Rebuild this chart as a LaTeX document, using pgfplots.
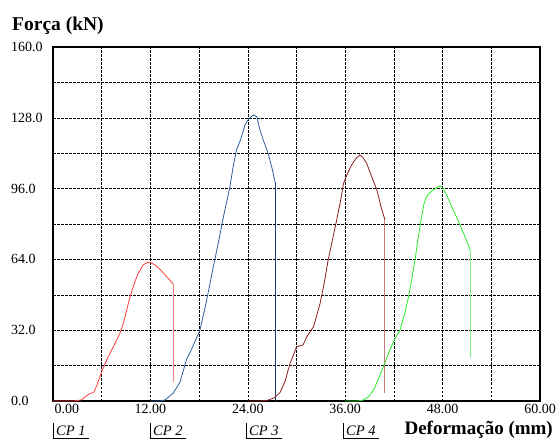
\documentclass[border=0pt]{standalone}
\usepackage{fontspec}
\setmainfont{Liberation Serif}
\usepackage{pgfplots}
\pgfplotsset{compat=1.18}
\definecolor{cpred}{RGB}{255,60,60}
\definecolor{cpredl}{RGB}{255,130,130}
\definecolor{cpblue}{RGB}{45,95,155}
\definecolor{cpblued}{RGB}{25,65,125}
\definecolor{cpbrown}{RGB}{140,30,30}
\definecolor{cpbrownl}{RGB}{195,125,125}
\definecolor{cpgreen}{RGB}{40,235,40}
\definecolor{cpgreenl}{RGB}{130,240,130}
\begin{document}
\begin{tikzpicture}
\useasboundingbox (0,0) rectangle (559pt,439pt);
\begin{axis}[
  at={(53pt,38pt)}, anchor=south west,
  scale only axis, width=487pt, height=354pt,
  xmin=0, xmax=60, ymin=0, ymax=160,
  xtick={0,12,24,36,48,60},
  xticklabels={\hspace*{28pt}0.00,12.00,24.00,36.00,48.00,60.00},
  ytick={0,32,64,96,128,160},
  yticklabels={0.0,32.0,64.0,96.0,128.0,160.0},
  minor xtick={6,18,30,42,54},
  minor ytick={16,48,80,112,144},
  grid=both,
  major grid style={black, line width=0.5pt, dash pattern=on 2.5pt off 1.5pt},
  minor grid style={black, line width=0.5pt, dash pattern=on 2.5pt off 1.5pt},
  major tick length=0pt, minor tick length=0pt,
  axis line style={black, line width=1.8pt},
  tick label style={font=\fontsize{14}{16}\selectfont},
  yticklabel style={anchor=west, xshift=-42pt, inner sep=0pt},
  xticklabel style={inner sep=2pt, yshift=-1pt},
]
% CP 1
\addplot[cpred, line width=0.8pt] coordinates {
(0,0)(2.5,0)(3.5,0.5)(4.2,2.5)(4.6,3.5)(5.0,3.8)(5.4,7)(6.0,13.3)(6.8,20)(7.5,25)(8.25,30.6)(8.67,35.1)(9.08,41.1)(9.4,46)(9.69,49.4)(10.1,54)(10.5,57.7)(11.1,61.5)(11.6,62.6)(11.95,62.7)(12.57,61.5)(13.2,59.5)(13.8,57)(14.3,55)(14.8,52.9)};
\addplot[cpredl, line width=1pt] coordinates {(14.8,52.9)(14.8,8.7)};
% CP 2
\addplot[cpblue, line width=0.8pt] coordinates {
(12,0)(13.2,0)(13.8,0.5)(14.8,3.5)(15.65,8.5)(16.0,13)(16.47,19)(16.9,22)(17.5,27)(18.1,32)(18.9,45)(19.75,60.7)(20.4,72)(21,83.3)(21.8,96.9)(22.2,106)(22.6,113.4)(23.1,118)(23.65,124.7)(24.1,127.5)(24.7,129.3)(25.1,128.5)(25.5,122.5)(26.0,117)(26.5,112)(27.0,105)(27.35,99.1)};
\addplot[cpblued, line width=0.8pt] coordinates {(27.35,99.1)(27.35,0)};
% CP 3
\addplot[cpbrown, line width=0.8pt] coordinates {
(24,0)(25.5,0)(26.5,0.4)(27.3,1.5)(28,4)(28.6,9)(29.2,17)(29.7,21.5)(30.0,24.5)(30.8,25.3)(31.26,29)(32.1,33.6)(32.9,44)(33.4,53)(33.9,63.7)(34.5,74)(34.95,81.8)(35.4,90)(35.8,98.4)(36.3,103)(36.8,106.7)(37.3,109.5)(37.8,111.2)(38.2,110)(38.65,107.4)(39.3,101)(39.9,95.4)(40.4,88)(40.9,81.8)};
\addplot[cpbrownl, line width=1pt] coordinates {(40.9,81.8)(40.9,3.5)};
% CP 4
\addplot[cpgreen, line width=0.8pt] coordinates {
(36,0)(37.5,0)(38.2,0.4)(38.9,2)(39.5,5)(40.1,10)(40.7,15.5)(41.5,23)(42.1,28)(42.75,32)(43.3,39)(43.8,47)(44.2,55)(44.6,63.7)(45.0,74)(45.4,83.3)(45.7,89)(46.0,92.3)(46.4,94)(46.85,95.4)(47.3,96.5)(47.7,97.2)(48.1,96)(48.5,93.1)(49.1,88)(49.7,83.3)(50.2,79)(50.76,74.3)(51.4,68.2)};
\addplot[cpgreenl, line width=1pt] coordinates {(51.4,68.2)(51.4,19.3)};
\end{axis}
\node[anchor=base west, inner sep=0pt, font=\fontsize{19.5}{22}\selectfont\bfseries] at (12pt,408pt) {Força (kN)};
\node[anchor=base east, inner sep=0pt, font=\fontsize{19}{22}\selectfont\bfseries] at (553pt,5pt) {Deformação (mm)};
\foreach \x/\t in {53/1,150/2,246/3,343/4}{
  \draw[black, line width=0.5pt] (\x pt,16pt) -- (\x pt,1pt) -- (\x pt+36pt,1pt);
  \node[anchor=base west, inner sep=0pt, font=\fontsize{14.5}{16}\selectfont\itshape] at (\x pt+3pt,4pt) {CP \t};
}
\end{tikzpicture}
\end{document}
